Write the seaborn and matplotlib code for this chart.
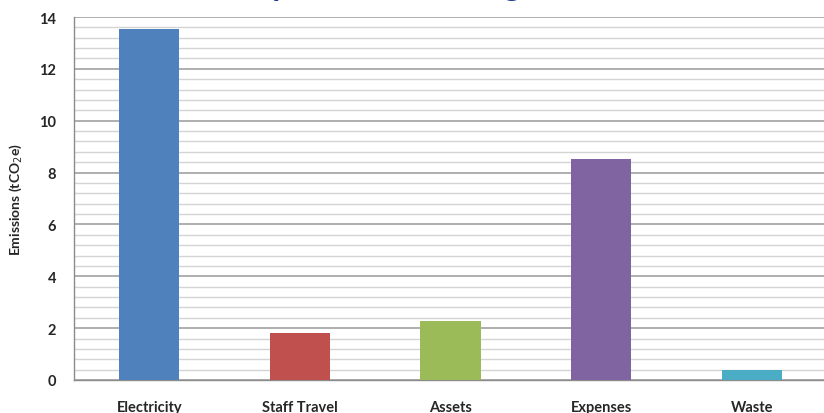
import numpy as np
import pandas as pd
import matplotlib
matplotlib.use('Agg')
import matplotlib.pyplot as plt
import seaborn as sns
from matplotlib.ticker import MultipleLocator, FixedLocator

# data
categories = ['Electricity', 'Staff Travel', 'Assets', 'Expenses', 'Waste']
emissions = [13.55, 1.82, 2.28, 8.52, 0.39]
bar_colors = ['#4f81bd', '#c0504d', '#9bbb59', '#8064a2', '#4bacc6']
title = 'Emissions by Business Categories'

df = pd.DataFrame({'category': categories, 'emissions': emissions})

sns.set_style('white')
plt.rcParams['font.family'] = ['Lato', 'DejaVu Sans']

fig = plt.figure(figsize=(8.24, 4.14), dpi=100)
ax = fig.add_axes([74/824, 1 - 381/414, (827 - 74)/824, (381 - 18)/414])

sns.barplot(data=df, x='category', y='emissions', hue='category',
            palette=bar_colors, width=0.4, legend=False, ax=ax,
            saturation=1, edgecolor='none', zorder=3)

ax.set_xlim(-0.5, 4.5)
ax.set_ylim(0, 14)

# gridlines: light every 0.4, darker every 2
ax.yaxis.set_major_locator(MultipleLocator(2))
ax.yaxis.set_minor_locator(MultipleLocator(0.4))
ax.grid(which='minor', axis='y', color='#d4d4d4', linewidth=1.0, zorder=0)
ax.grid(which='major', axis='y', color='#a8a8a8', linewidth=1.3, zorder=0)
ax.set_axisbelow(True)

# x ticks at category boundaries, labels at centres
ax.xaxis.set_major_locator(FixedLocator(np.arange(-0.5, 5.0, 1.0)))
ax.xaxis.set_minor_locator(FixedLocator(np.arange(0, 5)))
ax.set_xticklabels([''] * 6)
ax.set_xticklabels(categories, minor=True)
ax.tick_params(axis='x', which='major', length=5, width=1, color='#7f7f7f', direction='out')
ax.tick_params(axis='x', which='minor', length=0, pad=14.5, labelsize=10.5)
for lab in ax.get_xticklabels(minor=True):
    lab.set_fontweight('bold')

ax.tick_params(axis='y', which='major', length=5, width=1, color='#7f7f7f',
               direction='out', labelsize=10.5, pad=8)
ax.tick_params(axis='y', which='minor', length=0)
for lab in ax.get_yticklabels():
    lab.set_fontweight('bold')

ax.set_xlabel('')
ax.set_ylabel('Emissions (tCO$_2$e)', fontsize=10, fontweight='bold', labelpad=11)

for side in ['top', 'right']:
    ax.spines[side].set_visible(False)
for side in ['left', 'bottom']:
    ax.spines[side].set_color('#8c8c8c')
    ax.spines[side].set_linewidth(1)

# title sits above the crop; only its descenders show.
# shift it so the "y" of "by" lands where it is in the picture
title_kw = dict(fontsize=24, fontweight='bold', color='#1f3a93')
probe = fig.text(0, 0, title[:title.index('by') + 1], **title_kw)
fig.canvas.draw()
prefix_w = probe.get_window_extent().width
probe.remove()
fig.text((270 - prefix_w) / 824, 1 + 4/414, title, ha='left', va='baseline', **title_kw)

fig.savefig('out.png', dpi=100)
